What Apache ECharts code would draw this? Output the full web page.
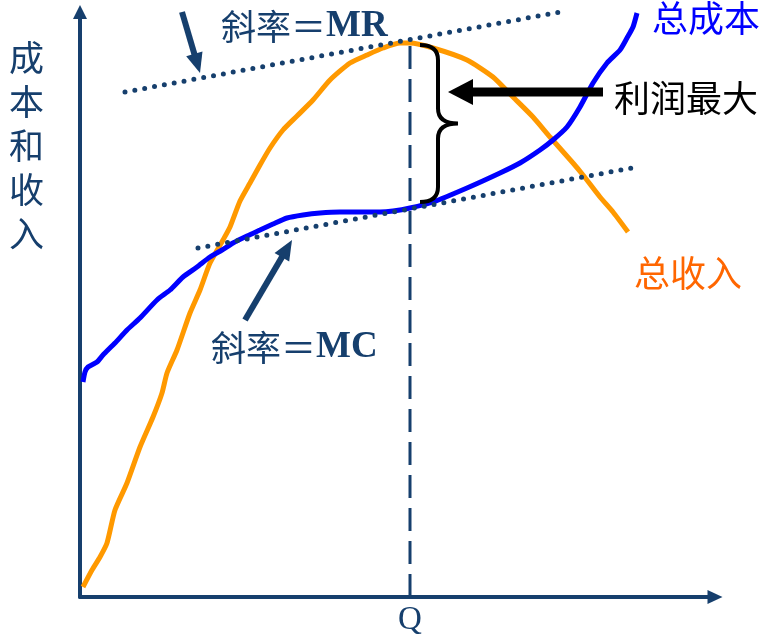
<!DOCTYPE html>
<html>
<head>
<meta charset="utf-8">
<script src="https://cdn.jsdelivr.net/npm/echarts@6/dist/echarts.min.js"></script>
<style>html,body{margin:0;padding:0;background:#fff}#c{width:775px;height:643px}</style>
</head>
<body>
<div id="c"></div>
<script>
// ---- data (x = quantity units, y = cost / revenue units) ----
const revenueX = [3, 12, 20, 27, 35, 47, 60, 73, 82, 87, 97, 110, 120, 130, 143, 150, 160, 170, 180, 190, 203, 217, 233, 250, 270, 287, 303, 320, 330, 353, 387, 413, 433, 453, 470, 493, 503, 520, 533, 548];
const revenueY = [10, 27, 40, 54, 87, 114, 150, 180, 204, 224, 247, 284, 307, 334, 357, 370, 396, 414, 432, 449, 467, 481, 497, 517, 534, 542, 549, 554, 554, 549, 537, 520, 500, 480, 460, 434, 422, 400, 385, 365];
const costX = [3, 5, 8, 17, 23, 35, 47, 60, 77, 90, 103, 117, 130, 142, 153, 167, 180, 193, 207, 223, 240, 260, 280, 300, 313, 330, 353, 387, 420, 440, 460, 473, 487, 500, 513, 527, 540, 547, 553, 557];
const costY = [215, 225, 230, 235, 242, 254, 267, 279, 297, 307, 320, 330, 340, 347, 354, 361, 367, 373, 379, 382, 384, 385, 385, 385, 386, 389, 395, 409, 424, 434, 447, 457, 470, 490, 514, 534, 547, 559, 570, 584];
const mrLineX = [45, 480];
const mrLineY = [505, 585];
const mcLineX = [118, 552];
const mcLineY = [349, 429];
const qValue = 330;
const qLineY = [0, 555];
const qLabel = 'Q';
// arrows: [fromX, fromY, toX, toY]
const slopeArrows = [[102, 585, 120, 524], [165, 277, 212, 357]];
const profitArrow = [[523, 505, 368, 505]];
// brace: [x, topY, bottomY, tipX, spineX]
const profitBrace = [[340, 552, 395, 378, 358]];
const yAxisTitle = '成本和收入';
const mrText = ['斜率＝', 'MR'];
const mcText = ['斜率＝', 'MC'];
const costName = '总成本';
const revenueName = '总收入';
const profitText = '利润最大';

const NAVY = '#163f6d';
const CJK = '"Noto Sans CJK SC", sans-serif';
const SERIF = '"Liberation Serif", serif';

const chart = echarts.init(document.getElementById('c'), null, {renderer: 'canvas'});

function pairs(xs, ys) { return xs.map((x, i) => [x, ys[i]]); }

function arrowRender(shaftW, headL, headW, color) {
  return function (params, api) {
    const p0 = api.coord([api.value(0), api.value(1)]);
    const p1 = api.coord([api.value(2), api.value(3)]);
    const dx = p1[0] - p0[0], dy = p1[1] - p0[1];
    const len = Math.hypot(dx, dy);
    const ux = dx / len, uy = dy / len;
    const bx = p1[0] - ux * headL, by = p1[1] - uy * headL;
    const nx = -uy, ny = ux;
    return {
      type: 'group',
      children: [
        {type: 'line', shape: {x1: p0[0], y1: p0[1], x2: bx + ux, y2: by + uy}, style: {stroke: color, lineWidth: shaftW}},
        {type: 'polygon', shape: {points: [[p1[0], p1[1]], [bx + nx * headW / 2, by + ny * headW / 2], [bx - nx * headW / 2, by - ny * headW / 2]]}, style: {fill: color}}
      ]
    };
  };
}

function braceRender(params, api) {
  const top = api.coord([api.value(0), api.value(1)]);
  const bot = api.coord([api.value(0), api.value(2)]);
  const tipX = api.coord([api.value(3), api.value(1)])[0];
  const sx = api.coord([api.value(4), api.value(1)])[0];
  const x0 = top[0], y0 = top[1], y1 = bot[1];
  const ym = (y0 + y1) / 2;
  const c = 15;
  const d = 'M' + x0 + ' ' + y0 +
    ' Q' + sx + ' ' + y0 + ' ' + sx + ' ' + (y0 + c) +
    ' L' + sx + ' ' + (ym - c) +
    ' Q' + sx + ' ' + ym + ' ' + tipX + ' ' + ym +
    ' Q' + sx + ' ' + ym + ' ' + sx + ' ' + (ym + c) +
    ' L' + sx + ' ' + (y1 - c) +
    ' Q' + sx + ' ' + y1 + ' ' + x0 + ' ' + y1;
  return {type: 'path', shape: {pathData: d}, style: {stroke: '#000', lineWidth: 4, fill: null}};
}

const option = {
  animation: false,
  backgroundColor: '#fff',
  grid: {left: 80, right: 60, top: 12, bottom: 46},
  xAxis: {
    type: 'value', min: 0, max: 635,
    axisLine: {show: true, onZero: false, lineStyle: {color: NAVY, width: 4}, symbol: ['none', 'triangle'], symbolSize: [14, 15]},
    axisTick: {show: false},
    splitLine: {show: false},
    axisLabel: {
      show: true, customValues: [qValue], formatter: () => qLabel,
      color: NAVY, fontFamily: SERIF, fontSize: 33, margin: 7
    }
  },
  yAxis: {
    type: 'value', min: 0, max: 585,
    axisLine: {show: true, onZero: false, lineStyle: {color: NAVY, width: 4}, symbol: ['none', 'triangle'], symbolSize: [14, 14]},
    axisTick: {show: false},
    splitLine: {show: false},
    axisLabel: {show: false}
  },
  series: [
    {type: 'line', data: pairs([qValue, qValue], qLineY), showSymbol: false, lineStyle: {color: NAVY, width: 3, type: [23, 10]}, z: 1},
    {type: 'line', data: pairs(mrLineX, mrLineY), showSymbol: false, lineStyle: {color: NAVY, width: 5, type: [0, 10], cap: 'round'}, z: 3},
    {type: 'line', data: pairs(mcLineX, mcLineY), showSymbol: false, lineStyle: {color: NAVY, width: 5, type: [0, 10], cap: 'round'}, z: 3},
    {type: 'line', name: revenueName, data: pairs(revenueX, revenueY), showSymbol: false, smooth: 0.2, lineStyle: {color: '#ff9900', width: 5}, z: 2},
    {type: 'line', name: costName, data: pairs(costX, costY), showSymbol: false, smooth: 0.2, lineStyle: {color: '#0000ff', width: 5}, z: 2},
    {type: 'custom', renderItem: arrowRender(6, 20, 17, NAVY), data: slopeArrows, z: 4},
    {type: 'custom', renderItem: arrowRender(9, 25, 26, '#000'), data: profitArrow, z: 4},
    {type: 'custom', renderItem: braceRender, data: profitBrace, z: 4}
  ],
  graphic: [
    {type: 'text', left: 221, top: 8, style: {
      text: '{a|' + mrText[0] + '}{b|' + mrText[1] + '}',
      rich: {a: {fontFamily: CJK, fontSize: 35, fill: NAVY, color: NAVY}, b: {fontFamily: SERIF, fontWeight: 'bold', fontSize: 37, fill: NAVY, color: NAVY}}
    }},
    {type: 'text', left: 211, top: 329, style: {
      text: '{a|' + mcText[0] + '}{b|' + mcText[1] + '}',
      rich: {a: {fontFamily: CJK, fontSize: 35, fill: NAVY, color: NAVY}, b: {fontFamily: SERIF, fontWeight: 'bold', fontSize: 37, fill: NAVY, color: NAVY}}
    }},
    {type: 'text', left: 652, top: 0, style: {text: costName, fontFamily: CJK, fontSize: 36, fill: '#0000ff'}},
    {type: 'text', left: 614, top: 80, style: {text: profitText, fontFamily: CJK, fontSize: 36, fill: '#000'}},
    {type: 'text', left: 634, top: 255, style: {text: revenueName, fontFamily: CJK, fontSize: 36, fill: '#ff6600'}},
    {type: 'text', left: 9, top: 36, style: {text: yAxisTitle.split('').join('\n'), fontFamily: CJK, fontSize: 35, lineHeight: 44, fill: NAVY}}
  ]
};
chart.setOption(option);
</script>
</body>
</html>
